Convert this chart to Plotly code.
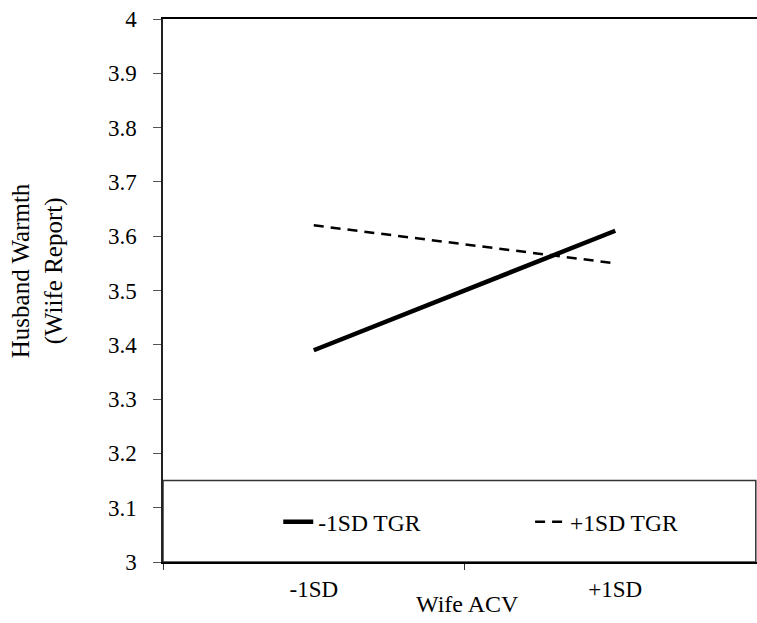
import plotly.graph_objects as go

categories = ["-1SD", "+1SD"]
series_names = ["-1SD TGR", "+1SD TGR"]
low_tgr = [3.39, 3.61]
high_tgr = [3.62, 3.55]
y_ticks = [3, 3.1, 3.2, 3.3, 3.4, 3.5, 3.6, 3.7, 3.8, 3.9, 4]
y_tick_labels = ["3", "3.1", "3.2", "3.3", "3.4", "3.5", "3.6", "3.7", "3.8", "3.9", "4"]
legend_box_top = 3.15

FONT = "Liberation Serif, Times New Roman, serif"

fig = go.Figure()
fig.add_trace(go.Scatter(x=categories, y=low_tgr, mode="lines", name=series_names[0],
                         line=dict(color="black", width=4.5), legend="legend"))
fig.add_trace(go.Scatter(x=categories, y=high_tgr, mode="lines", name=series_names[1],
                         line=dict(color="black", width=2.5, dash="10px,7px"), legend="legend2"))

# legend box
fig.add_shape(type="rect", xref="paper", yref="y", x0=0, x1=0.998, y0=3, y1=legend_box_top,
              line=dict(color="#333333", width=1.5), fillcolor="white", layer="below")

legend_common = dict(orientation="h", yanchor="middle", xanchor="left", y=0.0737,
                     bgcolor="rgba(0,0,0,0)", font=dict(size=23.5, family=FONT))

fig.update_layout(
    width=757, height=623,
    margin=dict(l=163, r=0, t=19, b=61),
    paper_bgcolor="white", plot_bgcolor="white",
    font=dict(family=FONT, size=23, color="black"),
    showlegend=True,
    legend=dict(x=0.194, **legend_common),
    legend2=dict(x=0.618, **legend_common),
    xaxis=dict(type="category", range=[-0.5, 1.47], showline=True, linecolor="black",
               linewidth=2, mirror=True, ticks="outside", tickson="boundaries", ticklen=6,
               tickcolor="#333333", showgrid=False, zeroline=False, ticklabelstandoff=5,
               tickfont=dict(size=23, family=FONT)),
    yaxis=dict(range=[3, 4], tickvals=y_ticks, ticktext=y_tick_labels, showline=True,
               linecolor="#222222", linewidth=1.5, ticks="outside", ticklen=8,
               tickcolor="#555555", showgrid=False, zeroline=False, ticklabelstandoff=12,
               tickfont=dict(size=23, family=FONT)),
    annotations=[
        dict(text="Husband Warmth<br>(Wiife Report)", textangle=-90, xref="paper", yref="paper",
             x=-0.21, y=0.536, xanchor="center", yanchor="middle", showarrow=False,
             font=dict(size=25, family=FONT)),
        dict(text="Wife ACV", xref="paper", yref="paper", x=0.512, y=-0.077,
             xanchor="center", yanchor="middle", showarrow=False,
             font=dict(size=24, family=FONT)),
    ],
)

fig.write_html("out.html")
